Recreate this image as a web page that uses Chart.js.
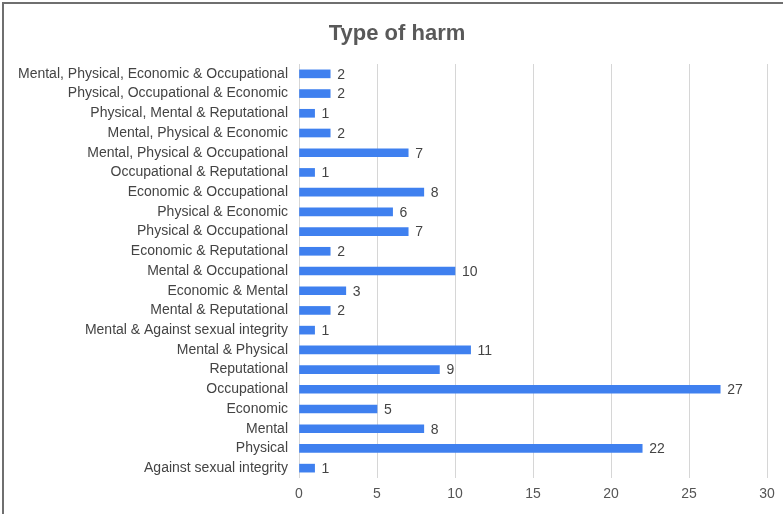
<!DOCTYPE html>
<html>
<head>
<meta charset="utf-8">
<script src="https://cdn.jsdelivr.net/npm/chart.js@4.4.0/dist/chart.umd.min.js"></script>
<style>
  html, body { margin: 0; padding: 0; background: #fff; }
  #frame { position: absolute; left: 2px; top: 2px; width: 800px; height: 530px; border-left: 2px solid #6f6f6f; border-top: 2px solid #6f6f6f; }
  #wrap { position: absolute; left: 0; top: 0; width: 783px; height: 514px; }
</style>
</head>
<body>
<div id="frame"></div>
<div id="wrap"><canvas id="harmChart" width="783" height="514"></canvas></div>
<script>
const categories = [
  "Mental, Physical, Economic & Occupational",
  "Physical, Occupational & Economic",
  "Physical, Mental & Reputational",
  "Mental, Physical & Economic",
  "Mental, Physical & Occupational",
  "Occupational & Reputational",
  "Economic & Occupational",
  "Physical & Economic",
  "Physical & Occupational",
  "Economic & Reputational",
  "Mental & Occupational",
  "Economic & Mental",
  "Mental & Reputational",
  "Mental & Against sexual integrity",
  "Mental & Physical",
  "Reputational",
  "Occupational",
  "Economic",
  "Mental",
  "Physical",
  "Against sexual integrity"
];
const counts = [2, 2, 1, 2, 7, 1, 8, 6, 7, 2, 10, 3, 2, 1, 11, 9, 27, 5, 8, 22, 1];
const xTicks = [0, 5, 10, 15, 20, 25, 30];
const chartTitle = "Type of harm";

const FONT = "Arial, 'Liberation Sans', sans-serif";

// title + value labels to the right of each bar
const extras = {
  id: "extras",
  afterDatasetsDraw(chart) {
    const ctx = chart.ctx;
    const meta = chart.getDatasetMeta(0);
    ctx.save();
    ctx.font = "14px " + FONT;
    ctx.fillStyle = "#444";
    ctx.textAlign = "left";
    ctx.textBaseline = "middle";
    meta.data.forEach((bar, i) => {
      ctx.fillText(String(counts[i]), bar.x + 7, bar.y + 1);
    });
    ctx.font = "bold 22px " + FONT;
    ctx.fillStyle = "#595959";
    ctx.textAlign = "center";
    ctx.fillText(chartTitle, 397, 34);
    ctx.restore();
  }
};

new Chart(document.getElementById("harmChart"), {
  type: "bar",
  data: {
    labels: categories,
    datasets: [{ data: counts, backgroundColor: "#3f80ef", barThickness: 8 }]
  },
  options: {
    indexAxis: "y",
    responsive: false,
    animation: false,
    layout: { padding: { top: 64, right: 16, bottom: 0, left: 0 } },
    plugins: {
      legend: { display: false },
      tooltip: { enabled: false },
      title: { display: false }
    },
    scales: {
      x: {
        min: 0,
        max: 30,
        afterBuildTicks: (scale) => { scale.ticks = xTicks.map((v) => ({ value: v })); },
        afterFit: (scale) => { scale.height = 36; },
        grid: { color: "#d6d6d6", drawTicks: false },
        border: { display: false },
        ticks: { color: "#555", padding: 8, font: { family: FONT, size: 14 } }
      },
      y: {
        afterFit: (scale) => { scale.width = 299; },
        grid: { display: false, drawTicks: false },
        border: { display: false },
        ticks: { color: "#444", padding: 11, autoSkip: false, font: { family: FONT, size: 14 } }
      }
    }
  },
  plugins: [extras]
});
</script>
</body>
</html>
